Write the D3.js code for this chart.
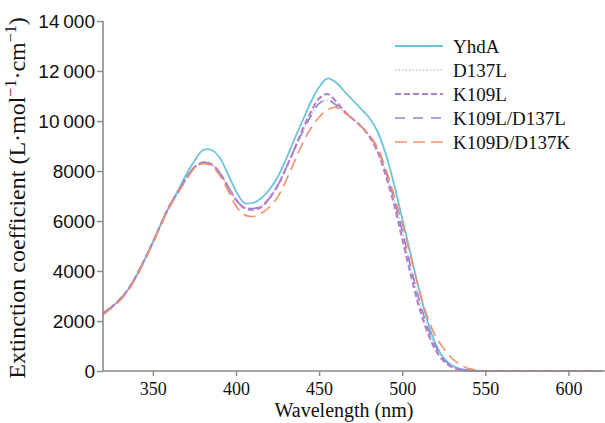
<!DOCTYPE html>
<html>
<head>
<meta charset="utf-8">
<script src="https://cdn.jsdelivr.net/npm/d3@7/dist/d3.min.js"></script>
<style>
  body { margin: 0; background: #fff; }
  svg { display: block; }
</style>
</head>
<body>
<div id="chart"></div>
<script>
// wavelength grid (nm)
var wavelengths = [320,325,330,335,340,345,350,355,360,365,370,375,380,385,390,395,400,405,410,415,420,425,430,435,440,445,450,455,460,465,470,475,480,485,490,495,500,505,510,515,520,525,530,535,540,545,550,560,580,600,620];

// extinction coefficient per variant
var yhdA =      [2300,2550,2850,3250,3800,4450,5150,5900,6600,7200,7850,8400,8830,8850,8550,7900,7200,6720,6720,6900,7250,7750,8450,9250,10000,10750,11350,11700,11550,11200,10850,10500,10150,9600,8700,7500,6100,4700,3300,2050,1100,520,220,90,30,10,0,0,0,0,0];
var d137L =     [2300,2550,2850,3250,3800,4450,5150,5900,6600,7150,7700,8150,8340,8280,7950,7400,6850,6550,6500,6600,6900,7400,8100,8850,9550,10200,10700,10820,10650,10350,10100,9800,9450,8900,8000,6900,5600,4200,2900,1800,1000,480,180,60,20,0,0,0,0,0,0];
var k109L =     [2300,2550,2850,3250,3800,4450,5150,5900,6600,7150,7700,8150,8340,8280,7950,7400,6850,6520,6450,6550,6900,7400,8100,8850,9650,10350,10900,11080,10800,10400,10100,9800,9400,8800,7850,6700,5300,3900,2600,1600,850,400,150,50,15,0,0,0,0,0,0];
var k109LD137L = [2300,2550,2850,3250,3800,4450,5150,5900,6600,7150,7700,8150,8340,8280,7950,7400,6850,6550,6500,6600,6900,7400,8100,8850,9550,10200,10700,10850,10650,10350,10100,9800,9450,8900,8000,6900,5600,4200,2900,1800,1000,480,180,60,20,0,0,0,0,0,0];
var k109DD137K = [2250,2500,2800,3200,3750,4400,5100,5850,6550,7100,7650,8100,8290,8220,7850,7250,6600,6250,6180,6300,6550,6950,7600,8350,9100,9700,10150,10450,10550,10350,10100,9800,9450,8950,8100,7050,5900,4600,3300,2200,1400,900,500,250,100,40,0,0,0,0,0];

var seriesNames = ["YhdA", "D137L", "K109L", "K109L/D137L", "K109D/D137K"];
var seriesValues = [yhdA, d137L, k109L, k109LD137L, k109DD137K];
var seriesColors = ["#6cc3de", "#c4c4c4", "#b57fcb", "#8c84d4", "#f2916b"];
var seriesDash = ["", "1.5,2", "6,3", "10,8", "12,6"];
var seriesWidth = [1.8, 1.5, 2.2, 1.6, 1.6];

var xTicks = [350, 400, 450, 500, 550, 600];
var yTicks = [0, 2000, 4000, 6000, 8000, 10000, 12000, 14000];
var yTickLabels = ["0", "2000", "4000", "6000", "8000", "10\u2009000", "12\u2009000", "14\u2009000"];

var width = 605, height = 423;
var plotLeft = 103, plotRight = 605, plotTop = 21, plotBottom = 371;

var svg = d3.select("#chart").append("svg")
    .attr("width", width)
    .attr("height", height);

var x = d3.scaleLinear().domain([320, 622]).range([plotLeft, plotRight]);
var y = d3.scaleLinear().domain([0, 14000]).range([plotBottom, plotTop]);

// curves
var line = d3.line()
    .x(function(d) { return x(d[0]); })
    .y(function(d) { return y(Math.max(0, d[1])); })
    .curve(d3.curveCatmullRom.alpha(0.5));

var drawOrder = [1, 0, 3, 2, 4];
drawOrder.forEach(function(i) {
    var pts = wavelengths.map(function(w, j) { return [w, seriesValues[i][j]]; });
    svg.append("path")
        .datum(pts)
        .attr("fill", "none")
        .attr("stroke", seriesColors[i])
        .attr("stroke-width", seriesWidth[i])
        .attr("stroke-dasharray", seriesDash[i])
        .attr("d", line);
});

// axes
var axisColor = "#8a8a8a";

var yAxis = svg.append("g")
    .attr("transform", "translate(" + plotLeft + ",0)")
    .call(d3.axisLeft(y).tickValues(yTicks).tickSize(6).tickPadding(2)
        .tickFormat(function(d, i) { return yTickLabels[i]; }));
yAxis.select(".domain").attr("stroke", axisColor).attr("stroke-width", 1.6).attr("d", "M0," + plotTop + "V" + plotBottom);
yAxis.selectAll(".tick line").attr("stroke", axisColor).attr("stroke-width", 1.4);
yAxis.selectAll(".tick text")
    .attr("fill", "#111")
    .style("font-family", "'Liberation Sans', Arial, sans-serif")
    .style("font-size", "19px");

var xAxis = svg.append("g")
    .attr("transform", "translate(0," + plotBottom + ")")
    .call(d3.axisBottom(x).tickValues(xTicks).tickSize(5).tickPadding(6)
        .tickFormat(d3.format("d")));
xAxis.select(".domain").attr("stroke", axisColor).attr("stroke-width", 1.6).attr("d", "M" + plotLeft + ",0H" + plotRight);
xAxis.selectAll(".tick line").attr("stroke", axisColor).attr("stroke-width", 1.4);
xAxis.selectAll(".tick text")
    .attr("fill", "#111")
    .style("font-family", "'Liberation Serif', 'Times New Roman', serif")
    .style("font-size", "18px");

// axis titles
svg.append("text")
    .attr("x", (plotLeft + plotRight) / 2 - 10)
    .attr("y", 417)
    .attr("text-anchor", "middle")
    .style("font-family", "'Liberation Serif', 'Times New Roman', serif")
    .style("font-size", "20px")
    .attr("fill", "#111")
    .text("Wavelength (nm)");

var yTitle = svg.append("text")
    .attr("transform", "translate(25," + 198 + ") rotate(-90)")
    .attr("text-anchor", "middle")
    .style("font-family", "'Liberation Serif', 'Times New Roman', serif")
    .style("font-size", "24px")
    .attr("fill", "#111");
yTitle.append("tspan").text("Extinction coefficient (L\u00b7mol");
yTitle.append("tspan").attr("dy", -9).style("font-size", "16px").text("\u22121");
yTitle.append("tspan").attr("dy", 9).text("\u00b7cm");
yTitle.append("tspan").attr("dy", -9).style("font-size", "16px").text("\u22121");
yTitle.append("tspan").attr("dy", 9).text(")");

// legend
var legend = svg.append("g").attr("transform", "translate(395,46)");
seriesNames.forEach(function(name, i) {
    var row = legend.append("g").attr("transform", "translate(0," + (i * 24) + ")");
    row.append("line")
        .attr("x1", 0).attr("x2", 48)
        .attr("y1", 0).attr("y2", 0)
        .attr("stroke", seriesColors[i])
        .attr("stroke-width", seriesWidth[i])
        .attr("stroke-dasharray", seriesDash[i]);
    row.append("text")
        .attr("x", 58)
        .attr("y", 6.5)
        .style("font-family", "'Liberation Serif', 'Times New Roman', serif")
        .style("font-size", "19px")
        .attr("fill", "#111")
        .text(name);
});
</script>
</body>
</html>
